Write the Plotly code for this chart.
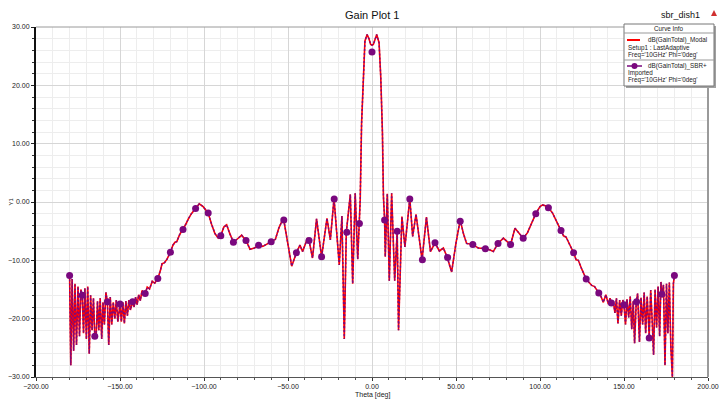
import plotly.graph_objects as go

# ---- data ----
theta = [
    -180.0, -179.3, -178.5, -177.6, -176.8, -175.9, -175.0, -174.1, -173.3, -172.5,
    -171.7, -170.9, -170.0, -169.2, -168.3, -167.5, -166.6, -165.8, -165.0, -164.2,
    -163.4, -162.6, -161.8, -160.9, -160.1, -159.3, -158.4, -157.5, -156.7, -155.8,
    -154.9, -154.0, -153.1, -152.2, -151.3, -150.0, -149.2, -148.3, -147.4, -146.5,
    -145.6, -144.7, -143.8, -142.5, -141.6, -140.7, -139.8, -138.9, -137.9, -136.9,
    -135.0, -133.8, -132.4, -130.8, -129.3, -127.5, -126.0, -125.0, -123.5, -122.0,
    -120.0, -118.5, -117.3, -116.2, -114.5, -112.5, -111.0, -109.3, -107.5, -105.0,
    -102.8, -100.5, -97.5, -95.5, -93.5, -91.5, -90.0, -88.2, -86.5, -84.8,
    -82.5, -80.0, -77.6, -75.0, -72.6, -70.0, -67.5, -65.0, -62.5, -60.0,
    -57.5, -55.5, -53.0, -52.5, -50.5, -47.8, -45.0, -42.9, -41.3, -38.5,
    -37.5, -35.4, -33.0, -31.3, -30.0, -26.8, -24.8, -22.6, -19.5, -17.9,
    -16.5, -15.3, -12.9, -11.5, -10.0, -8.5, -7.5, -7.0, -6.2, -5.2,
    -4.2, -2.9, -1.8, -0.8, 0.0, 0.8, 1.8, 2.8, 4.2, 5.2,
    6.2, 6.8, 7.5, 7.9, 9.1, 10.3, 11.7, 13.5, 15.0, 15.8,
    17.8, 19.6, 22.5, 24.2, 26.2, 29.8, 32.4, 34.8, 37.5, 40.1,
    42.5, 44.8, 47.4, 50.0, 52.5, 54.5, 56.3, 60.0, 63.3, 67.5,
    70.0, 72.2, 75.0, 78.2, 80.5, 82.5, 85.1, 87.5, 90.0, 92.5,
    95.0, 97.5, 100.0, 101.6, 103.5, 105.0, 107.5, 110.0, 112.5, 114.0,
    115.5, 117.5, 120.0, 121.5, 122.8, 125.0, 127.5, 129.0, 130.8, 132.5,
    135.0, 136.3, 137.7, 139.2, 140.7, 141.7, 142.5, 143.6, 144.6, 145.5,
    146.4, 147.4, 148.4, 149.3, 150.0, 150.9, 151.8, 152.8, 153.7, 154.6,
    155.5, 156.3, 157.3, 158.1, 159.2, 160.1, 161.1, 162.0, 162.9, 163.8,
    165.0, 165.9, 166.8, 167.6, 168.5, 169.4, 170.3, 171.2, 172.0, 172.5,
    173.5, 174.4, 175.3, 176.1, 177.0, 177.9, 178.8, 179.4, 180.0,
]
gain_modal = [
    -12.6, -28.0, -13.2, -25.5, -14.0, -24.5, -14.5, -23.0, -15.0, -16.0,
    -22.5, -14.8, -23.5, -14.5, -26.0, -16.0, -22.0, -16.5, -23.0, -23.2,
    -17.0, -22.0, -16.5, -23.5, -17.2, -21.0, -15.5, -17.1, -24.5, -16.3,
    -21.0, -17.2, -20.0, -16.8, -20.5, -17.5, -20.5, -17.2, -20.8, -17.0,
    -19.5, -16.8, -18.5, -17.1, -18.0, -16.3, -17.6, -15.9, -16.9, -15.2,
    -15.7, -14.6, -14.9, -13.6, -13.9, -13.1, -11.8, -10.6, -10.4, -9.8,
    -8.6, -7.4, -6.9, -6.8, -5.6, -4.7, -3.9, -2.9, -2.0, -1.1,
    -0.3, -0.8, -1.9, -3.8, -5.4, -6.2, -5.8, -4.3, -3.9, -5.3,
    -6.9, -6.3, -5.7, -6.6, -8.1, -7.9, -7.4, -7.6, -7.2, -6.8,
    -6.4, -4.5, -2.9, -3.1, -6.5, -11.0, -8.7, -7.4, -8.5, -6.3,
    -6.6, -9.6, -2.9, -7.0, -9.4, -2.8, -6.5, 0.6, -10.8, -2.4,
    -23.5, -5.2, 1.3, -14.0, 1.5, -9.8, -3.7, 0.5, 13.5, 22.5,
    27.6, 28.7, 28.0, 27.0, 26.9, 27.0, 28.0, 28.7, 27.3, 21.5,
    12.0, 1.0, -3.1, -9.4, 1.4, -13.5, 1.5, -13.5, -5.0, -22.0,
    -2.5, -7.7, 0.6, -5.9, -2.1, -9.9, -2.6, -8.5, -7.0, -8.4,
    -7.9, -9.5, -12.0, -7.0, -3.1, -5.5, -7.1, -7.3, -7.9, -8.0,
    -8.2, -8.5, -7.1, -6.2, -6.8, -7.3, -4.5, -5.4, -6.2, -5.3,
    -3.5, -2.0, -0.8, -0.5, -0.7, -1.0, -1.9, -3.4, -4.9, -5.8,
    -6.0, -7.2, -8.7, -9.9, -10.0, -11.6, -13.2, -13.7, -14.3, -14.5,
    -15.6, -16.2, -17.2, -15.9, -17.5, -16.5, -17.3, -17.0, -19.0, -16.5,
    -20.8, -16.8, -19.5, -16.8, -17.6, -21.0, -16.7, -19.8, -16.2, -21.8,
    -17.0, -24.2, -17.1, -15.7, -24.0, -16.4, -21.0, -15.5, -22.5, -16.2,
    -23.0, -15.1, -20.5, -26.2, -15.0, -21.5, -14.5, -23.0, -13.7, -16.0,
    -14.2, -28.0, -14.0, -22.5, -13.8, -25.0, -30.0, -14.0, -12.6,
]
theta_sbr_markers = [
    -180, -172.5, -165, -157.5, -150, -142.5, -135, -127.5, -120, -112.5,
    -105, -97.5, -90, -82.5, -75, -67.5, -60, -52.5, -45, -37.5,
    -30, -22.5, -15, -7.5, 0, 7.5, 15, 22.5, 30, 37.5,
    45, 52.5, 60, 67.5, 75, 82.5, 90, 97.5, 105, 112.5,
    120, 127.5, 135, 142.5, 150, 157.5, 165, 172.5, 180,
]
gain_sbr_markers = [
    -12.6, -16.0, -23.0, -17.1, -17.5, -17.1, -15.7, -13.1, -8.6, -4.7,
    -1.1, -1.9, -5.8, -6.9, -6.6, -7.4, -6.8, -3.1, -8.7, -6.6,
    -9.4, 0.5, -5.2, -3.7, 25.7, -3.1, -5.0, 0.5, -9.9, -7.0,
    -9.5, -3.3, -7.3, -8.0, -7.1, -7.3, -6.2, -2.0, -1.0, -4.9,
    -8.7, -13.2, -15.6, -17.3, -17.6, -17.1, -23.3, -15.8, -12.6,
]
x_ticks = [-200, -150, -100, -50, 0, 50, 100, 150, 200]
y_ticks = [-30, -20, -10, 0, 10, 20, 30]

RED = "#ff0000"
PURPLE = "#7a087e"
FONT = "Liberation Sans"

# page body has an 8px margin, so the figure is shrunk and offset by 8px
OFF = 8
W, H = 727 - OFF, 400 - OFF
L, R, T, B = 28, 19, 19, 23
PW, PH = W - L - R, H - T - B


def px(x):
    return (x - OFF - L) / PW


def py(y):
    return (H - B - (y - OFF)) / PH


fig = go.Figure()
fig.add_trace(go.Scatter(x=theta, y=gain_modal, mode="lines",
                         line=dict(color=RED, width=1.6), showlegend=False))
fig.add_trace(go.Scatter(x=theta, y=gain_modal, mode="lines",
                         line=dict(color=PURPLE, width=1.4, dash="2px,2px"),
                         showlegend=False))
fig.add_trace(go.Scatter(x=theta_sbr_markers, y=gain_sbr_markers, mode="markers",
                         marker=dict(color=PURPLE, size=7), showlegend=False))

fig.update_layout(
    width=W, height=H,
    margin=dict(l=L, r=R, t=T, b=B, autoexpand=False),
    paper_bgcolor="white", plot_bgcolor="white",
    font=dict(family=FONT, size=7, color="#222222"),
)
fig.update_xaxes(
    range=[-200, 200], tickvals=x_ticks, tickformat=".2f", automargin=False,
    showgrid=True, gridcolor="#d6d6d6", gridwidth=1,
    ticks="outside", ticklen=3, tickcolor="#333333",
    showline=True, linecolor="#555555", linewidth=1,
    zeroline=False,
    minor=dict(dtick=10, showgrid=True, gridcolor="#ededed", ticks="outside",
               ticklen=2, tickcolor="#555555"),
)
fig.update_yaxes(
    range=[-30, 30], tickvals=y_ticks, tickformat=".2f", automargin=False,
    showgrid=True, gridcolor="#d6d6d6", gridwidth=1,
    ticks="outside", ticklen=3, tickcolor="#222222",
    showline=True, linecolor="#111111", linewidth=2,
    zeroline=False,
    minor=dict(dtick=2, showgrid=True, gridcolor="#ededed", ticks="outside",
               ticklen=2, tickcolor="#333333"),
)

shapes = [
    # top and right plot borders
    dict(type="line", xref="paper", yref="paper", x0=0, x1=1, y0=1, y1=1,
         line=dict(color="#9a9a9a", width=1)),
    dict(type="line", xref="paper", yref="paper", x0=1, x1=1, y0=0, y1=1,
         line=dict(color="#9a9a9a", width=2)),
    # legend box shadow + box
    dict(type="rect", xref="paper", yref="paper", x0=px(626), x1=px(716),
         y0=py(88), y1=py(26), line=dict(width=0), fillcolor="#a0a0a0"),
    dict(type="rect", xref="paper", yref="paper", x0=px(624), x1=px(714),
         y0=py(86), y1=py(24), line=dict(color="#777777", width=1),
         fillcolor="white"),
    dict(type="line", xref="paper", yref="paper", x0=px(624), x1=px(714),
         y0=py(33), y1=py(33), line=dict(color="#999999", width=1)),
    dict(type="line", xref="paper", yref="paper", x0=px(624), x1=px(714),
         y0=py(60), y1=py(60), line=dict(color="#999999", width=1)),
    dict(type="line", xref="paper", yref="paper", x0=px(627), x1=px(640),
         y0=py(40), y1=py(40), line=dict(color=RED, width=2)),
    dict(type="line", xref="paper", yref="paper", x0=px(627), x1=px(642),
         y0=py(66), y1=py(66), line=dict(color=PURPLE, width=1.5)),
    dict(type="circle", xref="paper", yref="paper", x0=px(631.5), x1=px(637.5),
         y0=py(69), y1=py(63), line=dict(width=0), fillcolor=PURPLE),
    # triangle marker at top right
    dict(type="path", xref="paper", yref="paper",
         path=f"M {px(711)} {py(16)} L {px(717)} {py(16)} L {px(714)} {py(10)} Z",
         line=dict(width=0), fillcolor="#d03030"),
]


def note(text, x, y, xanchor="left", size=6.3, color="#222222", angle=0):
    return dict(text=text, xref="paper", yref="paper", x=px(x), y=py(y),
                xanchor=xanchor, yanchor="middle", showarrow=False, textangle=angle,
                font=dict(size=size, color=color, family=FONT))


annotations = [
    note("Gain Plot 1", 372, 15, xanchor="center", size=11, color="#111111"),
    note("Theta [deg]", 372, 395, xanchor="center", size=7),
    note("Y1", 10.5, 202, xanchor="center", size=6, angle=-90),
    note("sbr_dish1", 702, 15, xanchor="right", size=9, color="#111111"),
    note("Curve Info", 669, 29, xanchor="center"),
    note("dB(GainTotal)_Modal", 646, 40),
    note("Setup1 : LastAdaptive", 626, 48),
    note("Freq='10GHz' Phi='0deg'", 626, 55),
    note("dB(GainTotal)_SBR+", 646, 66),
    note("Imported", 626, 73),
    note("Freq='10GHz' Phi='0deg'", 626, 80),
]

fig.update_layout(shapes=shapes, annotations=annotations)
fig.write_html("out.html")
